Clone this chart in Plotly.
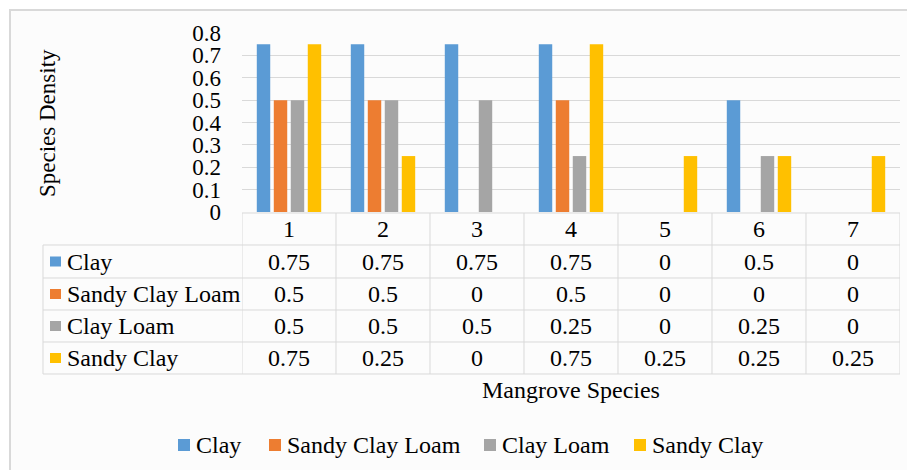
import plotly.graph_objects as go

categories = ["1", "2", "3", "4", "5", "6", "7"]
series_names = ["Clay", "Sandy Clay Loam", "Clay Loam", "Sandy Clay"]
clay = [0.75, 0.75, 0.75, 0.75, 0, 0.5, 0]
sandy_clay_loam = [0.5, 0.5, 0, 0.5, 0, 0, 0]
clay_loam = [0.5, 0.5, 0.5, 0.25, 0, 0.25, 0]
sandy_clay = [0.75, 0.25, 0, 0.75, 0.25, 0.25, 0.25]
y_ticks = [0, 0.1, 0.2, 0.3, 0.4, 0.5, 0.6, 0.7, 0.8]
colors = ["#5B9BD5", "#ED7D31", "#A5A5A5", "#FFC000"]
all_series = [clay, sandy_clay_loam, clay_loam, sandy_clay]

FONT = "Liberation Serif, Times New Roman, serif"
FS = 24
GRID = "#D9D9D9"

# plot area in pixels
L, R, T, B = 242, 900, 33, 212
W, H = R - L, B - T


def xp(px):
    return (px - L) / W


def yp(py):
    return (B - py) / H


fig = go.Figure()
for name, vals, col in zip(series_names, all_series, colors):
    fig.add_trace(go.Bar(x=categories, y=vals, name=name, marker_color=col,
                         marker_line_width=0, showlegend=False))

shapes = []
annotations = []

# chart outer border / background
shapes.append(dict(type="rect", xref="paper", yref="paper", x0=xp(10), x1=xp(940),
                   y0=yp(10), y1=yp(480), line=dict(color="#D9D9D9", width=2),
                   fillcolor="#FCFCFC", layer="below"))

# data table
row_lines = [213, 245, 278, 310, 342, 374]
for i, py in enumerate(row_lines):
    x0 = xp(L) if i == 0 else xp(43)
    shapes.append(dict(type="line", xref="paper", yref="paper", x0=x0, x1=xp(R),
                       y0=yp(py), y1=yp(py), line=dict(color=GRID, width=1)))
shapes.append(dict(type="line", xref="paper", yref="paper", x0=xp(43), x1=xp(43),
                   y0=yp(245), y1=yp(374), line=dict(color=GRID, width=1)))
for i in range(len(categories) + 1):
    shapes.append(dict(type="line", xref="x", yref="paper", x0=i - 0.5, x1=i - 0.5,
                       y0=yp(213), y1=yp(374), line=dict(color=GRID, width=1)))

row_centers = [(row_lines[k] + row_lines[k + 1]) / 2 for k in range(5)]
for i, c in enumerate(categories):
    annotations.append(dict(x=i, y=yp(row_centers[0]), xref="x", yref="paper",
                            text=c, showarrow=False, yanchor="middle",
                            font=dict(family=FONT, size=FS, color="#000")))
for r, (name, vals, col) in enumerate(zip(series_names, all_series, colors)):
    yc = yp(row_centers[r + 1])
    shapes.append(dict(type="rect", xref="paper", yref="paper", x0=xp(50), x1=xp(61),
                       y0=yc - 5 / H, y1=yc + 5 / H, fillcolor=col, line_width=0))
    annotations.append(dict(x=xp(65), y=yc, xref="paper", yref="paper", text=name,
                            xanchor="left", yanchor="middle", showarrow=False,
                            font=dict(family=FONT, size=FS, color="#000")))
    for i, v in enumerate(vals):
        annotations.append(dict(x=i, y=yc, xref="x", yref="paper", text=f"{v:g}",
                                showarrow=False, yanchor="middle",
                                font=dict(family=FONT, size=FS, color="#000")))

# legend (drawn like the Excel legend)
legend_square_x = [178, 269, 484, 634]
legend_y = 445
for name, col, sx in zip(series_names, colors, legend_square_x):
    shapes.append(dict(type="rect", xref="paper", yref="paper", x0=xp(sx), x1=xp(sx + 12),
                       y0=yp(legend_y + 6), y1=yp(legend_y - 6), fillcolor=col,
                       line_width=0))
    annotations.append(dict(x=xp(sx + 16), y=yp(legend_y), xref="paper", yref="paper",
                            text=name, xanchor="left", yanchor="middle",
                            showarrow=False,
                            font=dict(family=FONT, size=FS, color="#000")))

# axis titles
annotations.append(dict(x=xp(47), y=yp(123), xref="paper", yref="paper",
                        text="Species Density", textangle=-90, showarrow=False,
                        xanchor="center", yanchor="middle",
                        font=dict(family=FONT, size=23, color="#000")))
annotations.append(dict(x=xp(571), y=yp(390), xref="paper", yref="paper",
                        text="Mangrove Species", showarrow=False,
                        xanchor="center", yanchor="middle",
                        font=dict(family=FONT, size=FS, color="#000")))

fig.update_layout(
    width=907, height=470,
    margin=dict(l=L, r=907 - R, t=T, b=470 - B, autoexpand=False),
    paper_bgcolor="white", plot_bgcolor="rgba(0,0,0,0)",
    barmode="group", bargap=0.277, bargroupgap=0.21,
    font=dict(family=FONT, size=FS, color="#000"),
    showlegend=False,
    shapes=shapes, annotations=annotations,
    xaxis=dict(type="category", range=[-0.5, 6.5], showticklabels=False,
               showgrid=False, zeroline=False, showline=False, ticks=""),
    yaxis=dict(range=[0, 0.8], tickvals=y_ticks, ticktext=[f"{v:g}" for v in y_ticks],
               showgrid=True, gridcolor=GRID, gridwidth=1, zeroline=False,
               showline=False, ticks="", ticklabelstandoff=20,
               tickfont=dict(family=FONT, size=23, color="#000")),
)

fig.write_html("out.html", config={"displayModeBar": False},
               post_script="document.body.style.margin='0';document.body.style.padding='0';")
